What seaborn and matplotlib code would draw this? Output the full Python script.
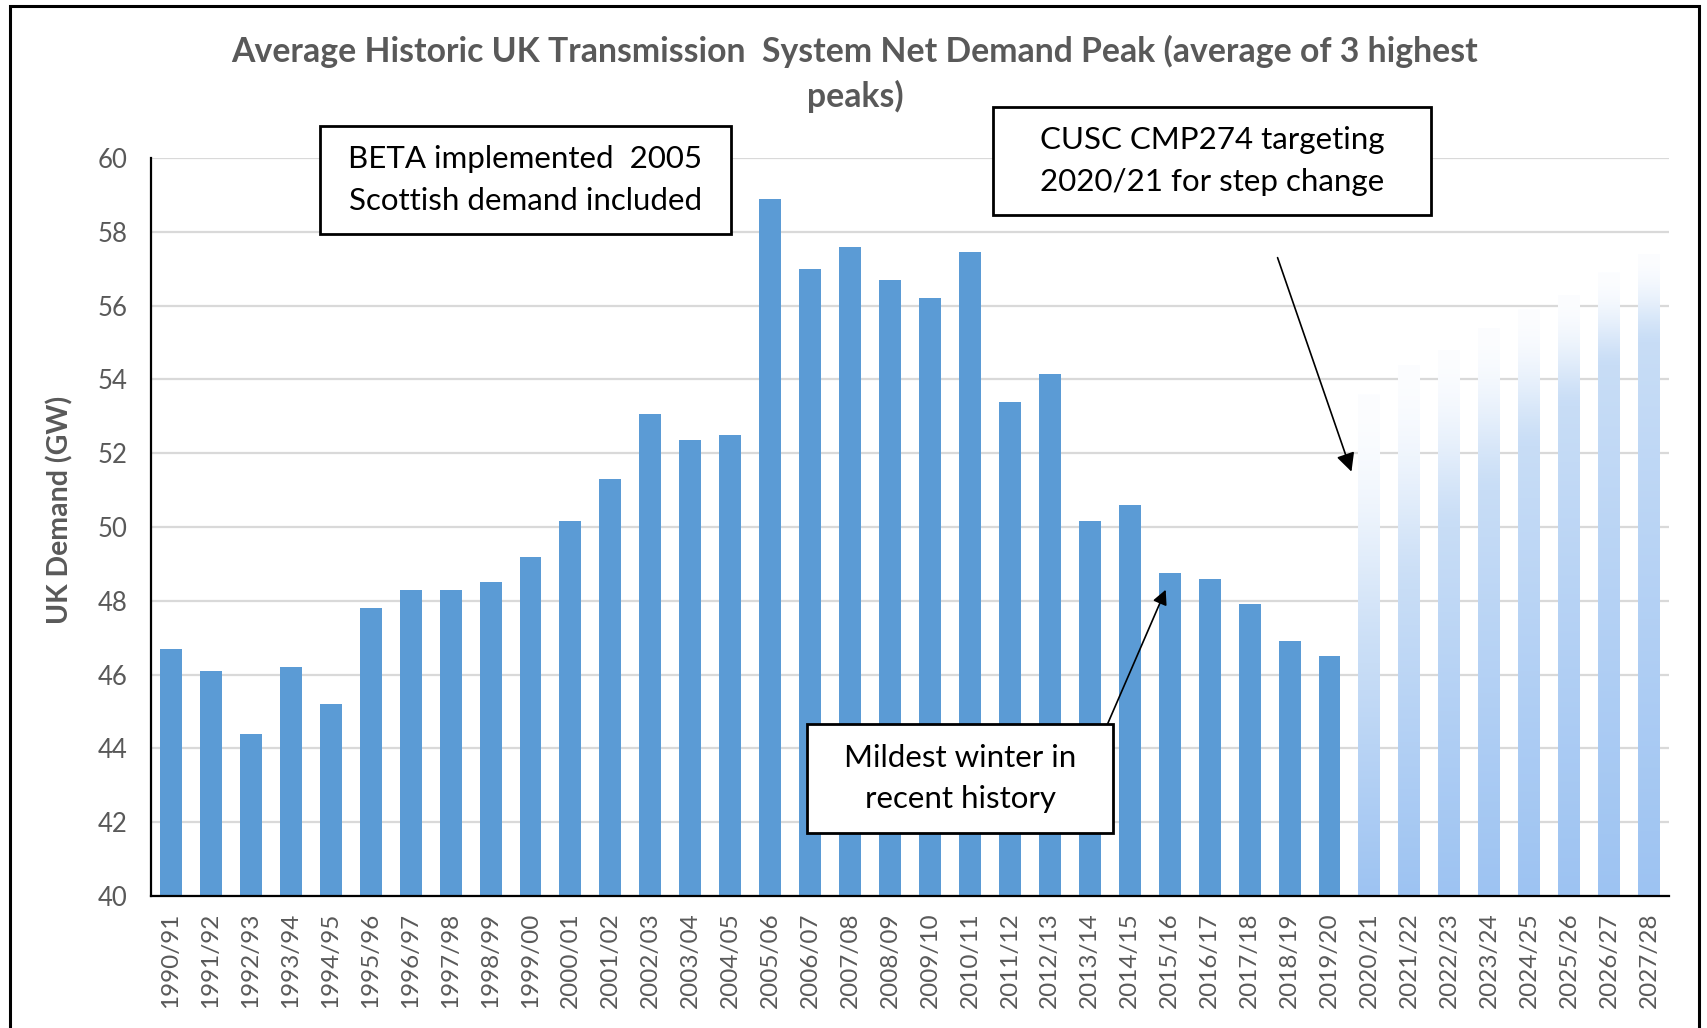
#!/usr/bin/env python3
# coding: utf-8

import numpy as np
import pandas as pd
import matplotlib
matplotlib.use("Agg")
import matplotlib.pyplot as plt
from matplotlib.patches import Rectangle
from matplotlib.colors import to_rgb
import seaborn as sns

# ---data---
seasons = ['1990/91', '1991/92', '1992/93', '1993/94', '1994/95', '1995/96', '1996/97',
           '1997/98', '1998/99', '1999/00', '2000/01', '2001/02', '2002/03', '2003/04',
           '2004/05', '2005/06', '2006/07', '2007/08', '2008/09', '2009/10', '2010/11',
           '2011/12', '2012/13', '2013/14', '2014/15', '2015/16', '2016/17', '2017/18',
           '2018/19', '2019/20']
demand_gw = [46.7, 46.1, 44.4, 46.2, 45.2, 47.8, 48.3, 48.3, 48.5, 49.2, 50.15, 51.3,
             53.05, 52.35, 52.5, 58.9, 57.0, 57.6, 56.7, 56.2, 57.45, 53.4, 54.15, 50.15,
             50.6, 48.75, 48.6, 47.9, 46.9, 46.5]
future_seasons = ['2020/21', '2021/22', '2022/23', '2023/24', '2024/25', '2025/26',
                  '2026/27', '2027/28']
future_gw = [53.6, 54.4, 54.8, 55.4, 55.9, 56.3, 56.9, 57.4]
# level (GW) below which each forecast bar stops fading to white
future_solid_gw = [46.3, 48.3, 50.0, 51.0, 52.2, 53.3, 54.4, 55.0]

title_lines = ['Average Historic UK Transmission  System Net Demand Peak (average of 3 highest',
               'peaks)']
y_label = 'UK Demand (GW)'
note_beta = 'BETA implemented  2005\nScottish demand included'
note_cusc = 'CUSC CMP274 targeting\n2020/21 for step change'
note_mild = 'Mildest winter in\nrecent history'

# ---style---
sns.set_style('white')
plt.rcParams['font.family'] = ['Lato', 'DejaVu Sans']
HIST_COLOR = '#5B9BD5'
FUT_BOTTOM = '#9DC3F2'
FUT_MID = '#C8DDF6'
FUT_TOP = '#FCFDFF'
GRAY_TXT = '#595959'

df = pd.DataFrame({
    'season': seasons + future_seasons,
    'demand': demand_gw + future_gw,
    'kind': ['hist'] * len(seasons) + ['future'] * len(future_seasons),
})

fig = plt.figure(figsize=(17.08, 10.28), dpi=100)
ax = fig.add_axes([0.0884, 0.1284, 0.8888, 0.7179])

sns.barplot(data=df, x='season', y='demand', hue='kind',
            palette={'hist': HIST_COLOR, 'future': FUT_BOTTOM}, saturation=1,
            dodge=False, width=0.55, legend=False, ax=ax, zorder=2,
            edgecolor='none', linewidth=0)

# gradient fill for the forecast bars
c_bot = np.array(to_rgb(FUT_BOTTOM))
c_mid = np.array(to_rgb(FUT_MID))
c_top = np.array(to_rgb(FUT_TOP))
n_hist = len(seasons)
fut_patches = [p for p in ax.patches if p.get_height() > 0
               and round(p.get_x() + p.get_width() / 2) >= n_hist]
fut_patches = sorted(fut_patches, key=lambda p: p.get_x())
for p, top, solid in zip(fut_patches, future_gw, future_solid_gw):
    x0, w = p.get_x(), p.get_width()
    yy = np.linspace(40, top, 400)
    col = np.empty((len(yy), 3))
    lo = yy <= solid
    t_lo = (yy[lo] - 40) / (solid - 40)
    col[lo] = c_bot * (1 - t_lo[:, None]) + c_mid * t_lo[:, None]
    t_hi = np.clip((yy[~lo] - solid) / (top - solid), 0, 1)
    t_hi = np.sin(t_hi * np.pi / 2) ** 1.3
    col[~lo] = c_mid * (1 - t_hi[:, None]) + c_top * t_hi[:, None]
    img = np.repeat(col[:, None, :], 2, axis=1)
    p.set_facecolor('none')
    im = ax.imshow(img, extent=[x0, x0 + w, 40, top], origin='lower',
                   aspect='auto', zorder=2, interpolation='bilinear')
    im.set_clip_path(p)

ax.set_ylim(40, 60)
ax.set_xlim(-0.5, len(df) - 0.5)
ax.set_yticks(np.arange(40, 61, 2))
ax.yaxis.grid(True, color='#D9D9D9', linewidth=1.6, zorder=0)
ax.set_axisbelow(True)
for s in ['top', 'right']:
    ax.spines[s].set_visible(False)
for s in ['left', 'bottom']:
    ax.spines[s].set_color('black')
    ax.spines[s].set_linewidth(1.6)
    ax.spines[s].set_zorder(3)

ax.set_xlabel('')
ax.set_ylabel('')
ax.tick_params(axis='x', length=0, pad=12, labelsize=17.5, labelcolor=GRAY_TXT, labelrotation=90)
ax.tick_params(axis='y', length=0, pad=17, labelsize=18.5, labelcolor=GRAY_TXT)

# arrows
ax.annotate('', xy=(29.55, 51.5), xytext=(27.7, 57.3),
            arrowprops=dict(arrowstyle='-|>', color='black', lw=1.2, mutation_scale=28,
                            shrinkA=0, shrinkB=0), zorder=5)
ax.annotate('', xy=(24.9, 48.3), xytext=(23.4, 44.55),
            arrowprops=dict(arrowstyle='-|>', color='black', lw=1.2, mutation_scale=22,
                            shrinkA=0, shrinkB=0), zorder=5)

# title and axis label
fig.text(0.5005, 0.950, title_lines[0], ha='center', va='center', fontsize=24.3,
         fontweight='bold', color=GRAY_TXT)
fig.text(0.5005, 0.906, title_lines[1], ha='center', va='center', fontsize=24.3,
         fontweight='bold', color=GRAY_TXT)
fig.text(0.0351, 0.504, y_label, ha='center', va='center', rotation=90, fontsize=20.5,
         fontweight='bold', color=GRAY_TXT)

# note boxes (figure fraction)
def note_box(x0, y0, w, h, text):
    fig.patches.append(Rectangle((x0, y0), w, h, transform=fig.transFigure,
                                 facecolor='white', edgecolor='black', linewidth=2, zorder=6))
    fig.text(x0 + w / 2, y0 + h / 2, text, ha='center', va='center', fontsize=22.5,
             color='black', linespacing=1.58, zorder=7)

note_box(0.1874, 0.7724, 0.2406, 0.105, note_beta)
note_box(0.5814, 0.7909, 0.2564, 0.105, note_cusc)
note_box(0.4725, 0.1897, 0.1792, 0.106, note_mild)

# outer chart border
fig.patches.append(Rectangle((10 / 1708, -0.02), 1689 / 1708, 1.02 - 6 / 1028,
                             transform=fig.transFigure, facecolor='none',
                             edgecolor='black', linewidth=2.2, zorder=10))

fig.savefig('out.png', dpi=100)
